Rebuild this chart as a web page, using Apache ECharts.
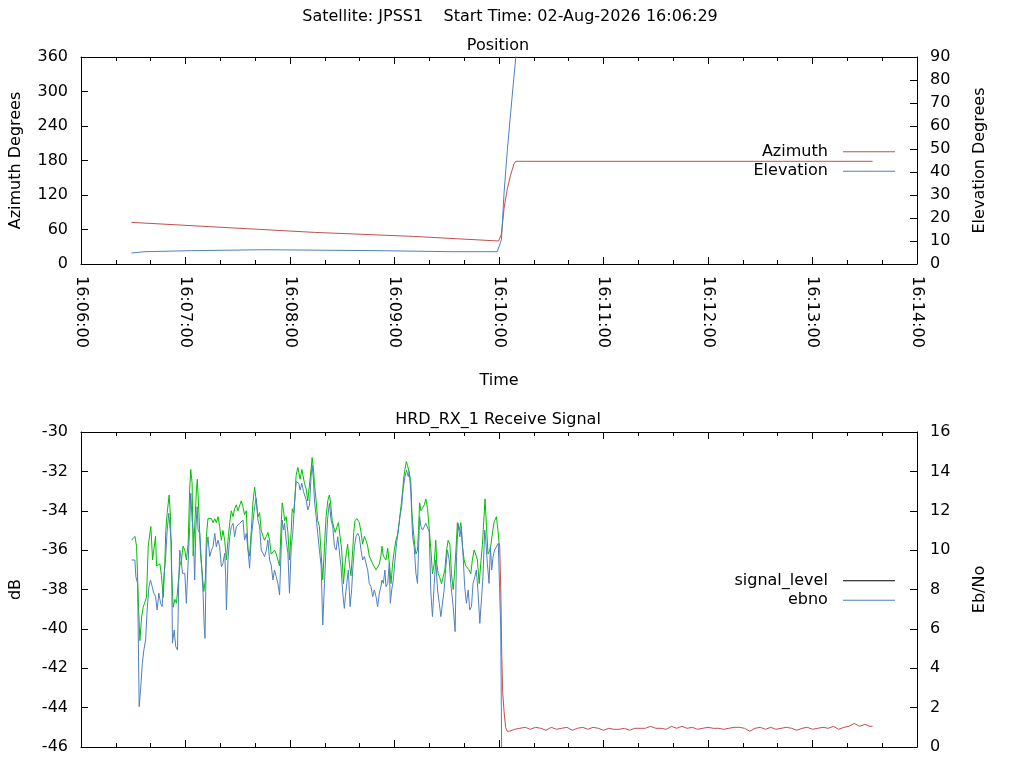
<!DOCTYPE html>
<html>
<head>
<meta charset="utf-8">
<script src="https://cdn.jsdelivr.net/npm/echarts@6/dist/echarts.min.js"></script>
<style>
  html, body { margin: 0; padding: 0; background: #fff; }
  #chart { width: 1024px; height: 768px; }
</style>
</head>
<body>
<div id="chart"></div>
<script>
// seconds after 16:06:00
var posTime = [29, 77, 134, 191, 239.8, 241.4, 242.9, 244.8, 246.7, 248.6, 249.6, 454.5];
var azimuth = [72.4, 64.4, 55.0, 48.0, 40.0, 52, 97, 131, 155, 174, 178.6, 178.6];

var elTime = [29, 36.7, 63.4, 105, 171, 213, 239, 240, 241.4, 242.9, 244.8, 246.7, 248.6, 249.6, 251];
var elevation = [4.8, 5.35, 5.8, 6.2, 5.8, 5.35, 5.35, 4.8, 10.6, 30.9, 49.7, 65.7, 81.6, 89.6, 100];

// signal level while locked (green)
var sigTime = [29.0, 30.95, 31.9, 32.9, 33.8, 34.8, 35.7, 37.6, 38.6, 40.1, 41.1, 41.8, 42.8, 43.4, 45.3, 46.2, 47.2, 48.1, 48.7, 49.5,
  50.6, 51.4, 51.9, 52.9, 53.9, 54.8, 55.8, 56.7, 57.7, 58.6, 59.6, 60.5, 61.5, 62.4, 63.0, 63.8, 64.4, 65.3, 66.3, 66.8,
  67.8, 68.6, 69.7, 70.5, 71.4, 72.0, 72.9, 74.9, 75.8, 76.8, 77.7, 78.7, 79.6, 80.6, 81.5, 82.5, 83.5, 84.4, 85.4, 86.3,
  87.3, 88.2, 89.2, 90.1, 91.1, 92.0, 93.0, 93.9, 94.9, 95.9, 96.8, 97.8, 98.7, 99.7, 100.6,
  101.6, 102.55, 103.5, 104.5, 105.4, 106.4, 107.3, 108.3, 109.2, 110.2, 111.1, 112.1, 113.05, 114.0, 115.0, 115.5, 116.3, 116.9, 117.8, 118.8,
  119.7, 120.7, 121.3, 122.2, 123.0, 123.5, 124.5, 125.1, 125.8, 126.8, 127.75, 128.3, 129.3, 130.2, 131.2, 132.1, 132.7, 133.5, 134.0, 135.0,
  135.9, 136.9, 137.9, 138.8, 139.8, 140.7, 141.7, 142.6, 143.2, 144.2, 145.1, 145.9, 146.8, 147.8, 148.9, 149.7, 150.7, 151.8, 152.6, 153.1,
  154.1, 155.0, 156.0, 156.6, 157.3, 158.5, 159.8, 160.8, 161.7, 162.7, 163.6, 164.6, 165.5, 166.5, 167.5, 168.4, 169.4, 170.3, 171.3, 172.2,
  172.8, 173.6, 174.5, 175.1, 176.1, 176.6, 177.4, 178.0, 178.9, 179.9, 180.8, 181.8, 182.7, 183.7, 184.7, 185.2, 186.0, 186.8, 187.5, 188.5,
  189.4, 190.0, 190.8, 191.7, 192.3, 193.2, 193.8, 194.4, 195.2, 196.1, 197.1, 198.0, 199.0, 199.9, 200.9, 201.8, 202.8, 203.7, 204.3, 205.1,
  206.0, 207.0, 207.9, 208.9, 209.9, 210.8, 211.8, 212.7, 213.7, 214.6, 215.6, 216.1, 217.1, 218.1, 219.0, 220.0, 220.9, 221.9, 222.8, 223.8,
  224.7, 225.7, 226.6, 227.6, 228.6, 229.5, 230.5, 231.4, 232.0, 232.8, 233.7, 234.7, 235.2, 236.2, 237.1, 238.5, 239.4, 240.0];
var sigLevel = [-35.5, -35.3, -35.8, -38.5, -40.6, -39.4, -38.9, -38.4, -35.8, -34.8, -36.5, -36.0, -35.3, -36.8, -36.7, -37.3, -38.4, -36.7, -35.0, -34.1,
  -33.2, -34.3, -36.8, -38.9, -38.5, -38.7, -37.7, -36.8, -36.5, -35.8, -36.0, -36.5, -35.7, -32.9, -31.9, -32.6, -36.3, -34.8, -32.9, -32.4,
  -34.3, -36.2, -37.3, -38.1, -37.5, -35.3, -34.4, -34.4, -34.6, -34.4, -34.6, -34.3, -34.8, -35.5, -35.0, -35.5, -36.5, -35.5, -34.6, -34.0,
  -34.3, -33.9, -33.7, -34.0, -33.9, -33.5, -33.8, -34.2, -34.0, -36.0, -36.3, -35.0, -33.6, -32.8, -32.9,
  -34.3, -34.1, -35.0, -35.3, -35.5, -35.3, -35.1, -35.5, -36.2, -36.2, -36.0, -36.2, -36.5, -36.8, -34.6, -33.6, -34.0, -34.5, -34.3, -35.1,
  -36.5, -35.0, -33.9, -34.1, -33.1, -32.2, -31.8, -31.8, -32.4, -31.9, -32.0, -32.6, -32.9, -33.5, -33.4, -31.9, -31.3, -31.9, -32.6, -33.5,
  -34.5, -34.8, -36.2, -37.5, -35.8, -34.3, -33.5, -33.2, -33.5, -34.5, -34.5, -35.1, -35.0, -34.6, -34.6, -36.0, -37.7, -36.5, -36.0, -35.7,
  -36.7, -37.3, -36.0, -35.1, -34.5, -34.4, -34.6, -35.1, -35.7, -35.3, -35.5, -35.8, -36.3, -36.5, -36.7, -36.8, -37.0, -37.0, -36.7, -36.3,
  -35.8, -36.3, -36.2, -36.5, -35.9, -35.9, -37.0, -37.7, -36.7, -36.0, -35.5, -35.2, -34.6, -33.8, -33.0, -32.4, -31.9, -31.5, -31.7, -32.1,
  -32.6, -34.1, -35.0, -35.8, -36.2, -36.0, -35.0, -33.6, -34.0, -34.1, -33.7, -33.4, -33.9, -34.0, -36.0, -37.2, -36.7, -35.5, -36.7, -37.2,
  -37.4, -37.7, -37.7, -37.0, -36.0, -35.5, -35.7, -37.2, -38.0, -37.0, -35.5, -34.6, -35.0, -34.6, -35.8, -36.5, -36.8, -36.8, -37.0, -37.2,
  -36.5, -36.0, -36.2, -36.5, -37.7, -36.7, -35.7, -34.3, -33.4, -34.8, -36.2, -36.0, -35.8, -35.7, -34.6, -34.3, -35.0, -35.6];

// signal level after loss of lock (red)
var lostTime = [240.0, 240.4, 241.0, 241.6, 242.1, 242.9, 243.8, 244.8,
  246, 249, 252, 255, 258, 261, 264, 267, 270, 273, 276, 279, 282, 285, 288, 291, 294, 297, 300, 303, 306, 309,
  312, 315, 318, 321, 324, 327, 330, 333, 336, 339, 342, 345, 348, 351, 354, 357, 360, 363, 366, 369, 372, 375,
  378, 381, 384, 387, 390, 393, 396, 399, 402, 405, 408, 411, 414, 417, 420, 423, 426, 429, 432, 435, 438, 441,
  444, 447, 450, 453, 454.5];
var lostLevel = [-35.6, -35.8, -37.9, -41.4, -43.2, -44.2, -45.0, -45.2,
  -45.2, -45.1, -45.05, -45.0, -45.1, -45.0, -45.05, -45.15, -45.0, -45.1, -45.05, -45.0, -45.15, -45.05, -45.0, -45.1, -45.0, -45.05, -45.15, -45.05, -45.1, -45.1,
  -45.05, -45.15, -45.05, -45.05, -45.05, -44.95, -45.05, -45.05, -45.1, -44.95, -45.05, -44.95, -45.05, -45.0, -45.1, -45.05, -45.0, -45.05, -45.05, -45.1, -45.05, -45.0,
  -45.0, -45.05, -45.2, -45.05, -45.0, -45.1, -45.0, -45.1, -45.05, -45.0, -45.05, -45.15, -45.05, -45.0, -45.1, -45.05, -45.0, -45.05, -44.95, -45.1, -45.0, -44.95,
  -44.8, -44.95, -44.85, -44.95, -44.95];

var ebnoTime = [29.0, 30.95, 31.5, 32.5, 33.4, 34.2, 35.2, 36.1, 37.1, 38.0, 39.0, 39.9, 40.9, 41.8, 42.8, 43.7, 44.7, 45.7, 46.6, 47.6,
  48.5, 49.5, 50.4, 51.4, 51.9, 52.5, 53.5, 54.4, 55.4, 56.1, 56.7, 57.3, 58.3, 59.6, 60.5, 61.5, 62.4, 63.0, 63.8, 64.4,
  65.3, 65.9, 66.7, 67.2, 68.2, 69.1, 70.1, 70.7, 71.2, 72.0, 72.9, 73.9, 74.9, 75.8, 76.8, 77.7, 78.7, 79.6, 80.6, 81.5,
  82.5, 83.1, 83.5, 84.4, 85.4, 86.3, 87.3, 88.2, 89.2, 90.1, 91.1, 92.0, 93.0, 93.9, 94.9, 95.9, 96.8, 97.8, 98.7, 99.7, 100.6,
  101.6, 102.55, 103.5, 104.5, 105.4, 106.4, 107.3, 108.3, 109.2, 110.2, 111.1, 112.1, 113.05, 114.0, 115.0, 115.5, 116.3, 116.9, 117.8, 118.8,
  119.7, 120.7, 121.6, 122.6, 123.5, 124.5, 125.1, 125.8, 126.8, 127.75, 128.3, 129.3, 130.2, 131.2, 132.1, 132.7, 133.5, 134.0, 135.0, 135.9,
  136.9, 137.9, 138.8, 139.8, 140.7, 141.7, 142.6, 143.6, 144.55, 145.5, 146.5, 147.4, 148.4, 149.3, 150.3, 151.2, 151.8, 152.6, 153.5, 154.5,
  155.4, 156.0, 157.0, 157.9, 158.9, 159.8, 160.8, 161.7, 162.7, 163.6, 164.6, 165.5, 166.5, 167.5, 168.4, 169.4, 170.3, 171.3, 172.2,
  172.8, 173.6, 174.5, 175.1, 176.1, 177.0, 177.6, 178.4, 179.3, 180.3, 181.2, 182.2, 183.1, 184.1, 185.0, 186.0, 186.9, 187.9, 188.5, 189.4,
  190.4, 191.3, 192.3, 193.2, 193.8, 194.4, 195.2, 196.1, 197.1, 198.0, 199.0, 199.9, 200.9, 201.8, 202.8, 203.7, 204.7, 205.7, 206.6, 207.6,
  208.5, 209.5, 210.4, 211.4, 212.3, 213.7, 214.8, 215.6, 216.5, 217.5, 218.4, 219.4, 220.3, 221.3, 222.3, 223.2, 224.2, 225.1, 226.1, 227.0,
  228.0, 229.0, 229.9, 230.8, 231.8, 232.4, 233.3, 234.3, 235.1, 235.8, 236.6, 237.5, 238.5, 239.6, 240.4, 241.0, 241.5];
var ebno = [9.5, 9.5, 8.65, 8.3, 2.05, 2.9, 4.25, 4.93, 5.44, 6.96, 8.14, 8.48, 8.14, 7.81, 7.64, 6.96, 7.81, 7.3, 7.13, 8.65,
  9.5, 11.02, 11.87, 11.87, 10.35, 5.27, 5.94, 5.1, 4.93, 8.3, 10.0, 9.67, 8.82, 8.82, 7.3, 7.3, 11.19, 12.89, 11.53, 11.02,
  8.48, 11.02, 12.21, 11.02, 10.85, 9.5, 7.81, 6.2, 5.52, 10.0, 10.68, 9.67, 10.0, 10.17, 10.85, 10.17, 10.51, 10.17, 9.16, 9.33,
  9.84, 8.65, 6.96, 9.5, 10.68, 11.19, 11.36, 10.68, 11.19, 11.19, 11.36, 11.45, 11.53, 10.51, 10.85, 10.0, 9.08, 10.68, 10.68, 12.21, 12.63,
  11.53, 11.19, 10.0, 9.84, 9.67, 10.0, 10.51, 9.5, 9.25, 8.48, 8.99, 8.65, 8.31, 7.72, 10.18, 11.53, 11.02, 11.36, 10.51, 9.84,
  7.81, 10.18, 10.85, 12.38, 13.48, 13.56, 13.39, 13.05, 13.39, 12.97, 12.89, 12.55, 12.04, 12.29, 13.73, 14.32, 13.56, 12.55, 11.7, 10.85,
  10.0, 9.16, 6.2, 8.31, 10.18, 11.7, 12.38, 11.53, 11.19, 10.18, 10.0, 10.68, 10.68, 9.16, 7.81, 7.04, 7.64, 8.31, 8.99, 7.13,
  7.98, 8.99, 10.18, 10.68, 10.85, 10.68, 10.0, 9.5, 9.67, 9.67, 8.99, 8.31, 8.14, 7.64, 7.98, 7.64, 7.13, 7.81, 8.14,
  8.48, 8.31, 8.99, 8.14, 8.31, 9.33, 7.3, 7.98, 8.48, 9.5, 10.35, 11.02, 11.7, 12.21, 13.14, 13.73, 14.07, 13.73, 13.99, 12.89,
  10.68, 10.18, 8.82, 8.31, 10.01, 11.7, 11.19, 11.02, 11.19, 11.36, 11.45, 10.94, 7.81, 6.62, 8.31, 9.5, 7.98, 7.3, 6.62, 6.54,
  7.98, 9.16, 10.01, 9.5, 8.31, 7.13, 5.86, 9.67, 11.36, 10.68, 11.19, 9.67, 8.14, 7.3, 7.98, 6.96, 7.13, 8.31, 8.65, 8.99,
  7.81, 6.28, 7.47, 8.65, 11.02, 10.51, 9.33, 8.31, 10.18, 8.99, 9.67, 10.01, 10.01, 10.35, 10.26, 6.0, 0];

function pairs(xs, ys) {
  return xs.map(function (x, i) { return [x, ys[i]]; });
}
function pad(n) { return n < 10 ? '0' + n : '' + n; }
function timeLabel(s) {
  var tot = 360 + s;
  return '16:' + pad(Math.floor(tot / 60)) + ':' + pad(Math.round(tot % 60));
}

var FONT = 'DejaVu Sans';
var txt = { fontFamily: FONT, fontSize: 16, color: '#000' };

function xAx(grid, pos, labels) {
  var a = {
    type: 'value', gridIndex: grid, position: pos, min: 0, max: 480, interval: 60,
    axisLine: { onZero: false, lineStyle: { color: '#000', width: 1 } },
    axisTick: { inside: true, length: 7, lineStyle: { color: '#000' } },
    minorTick: { show: true, splitNumber: 3, length: 4, lineStyle: { color: '#000' } },
    splitLine: { show: false },
    axisLabel: { show: false }
  };
  if (labels) {
    a.axisLabel = { show: true, rotate: -90, margin: 12, formatter: timeLabel, fontFamily: FONT, fontSize: 16, color: '#000' };
    a.name = 'Time';
    a.nameLocation = 'middle';
    a.nameGap = 109;
    a.nameTextStyle = txt;
  }
  return a;
}
function yAx(grid, pos, min, max, step, name, gap) {
  return {
    type: 'value', gridIndex: grid, position: pos, min: min, max: max, interval: step,
    name: name, nameLocation: 'middle', nameGap: gap, nameRotate: 90, nameTextStyle: txt,
    axisLine: { show: true, onZero: false, lineStyle: { color: '#000', width: 1 } },
    axisTick: { show: true, inside: true, length: 7, lineStyle: { color: '#000' } },
    splitLine: { show: false },
    axisLabel: { margin: 13, fontFamily: FONT, fontSize: 16, color: '#000' }
  };
}
function line(name, data, color, xi, yi) {
  return {
    name: name, type: 'line', data: data, xAxisIndex: xi, yAxisIndex: yi,
    showSymbol: false, symbol: 'none', color: color,
    lineStyle: { width: 1, color: color }, emphasis: { disabled: true }
  };
}
function legendBox(top, data) {
  return {
    data: data, orient: 'vertical', align: 'right', right: 124, top: top,
    icon: 'rect', itemWidth: 52, itemHeight: 1, itemGap: 0, selectedMode: false,
    formatter: function (n) { return n + '  '; },
    textStyle: { fontFamily: FONT, fontSize: 16, color: '#000', lineHeight: 19.5 }
  };
}

var chart = echarts.init(document.getElementById('chart'));
chart.setOption({
  animation: false,
  backgroundColor: '#fff',
  grid: [
    { left: 79, top: 57, width: 838, height: 207 },
    { left: 79, top: 432, width: 838, height: 315 }
  ],
  xAxis: [xAx(0, 'bottom', true), xAx(0, 'top', false), xAx(1, 'bottom', false), xAx(1, 'top', false)],
  yAxis: [
    yAx(0, 'left', 0, 360, 60, 'Azimuth Degrees', 57),
    yAx(0, 'right', 0, 90, 10, 'Elevation Degrees', 55),
    yAx(1, 'left', -46, -30, 2, 'dB', 57),
    yAx(1, 'right', 0, 16, 2, 'Eb/No', 55)
  ],
  legend: [
    legendBox(137, ['Azimuth', 'Elevation']),
    legendBox(566, [{ name: 'signal_level', itemStyle: { color: '#000' } }, 'ebno'])
  ],
  graphic: [
    { type: 'text', x: 510, y: 17, style: { text: 'Satellite: JPSS1    Start Time: 02-Aug-2026 16:06:29', font: '16px "DejaVu Sans"', fill: '#000', align: 'center', verticalAlign: 'middle' } },
    { type: 'text', x: 498, y: 46, style: { text: 'Position', font: '16px "DejaVu Sans"', fill: '#000', align: 'center', verticalAlign: 'middle' } },
    { type: 'text', x: 498, y: 420, style: { text: 'HRD_RX_1 Receive Signal', font: '16px "DejaVu Sans"', fill: '#000', align: 'center', verticalAlign: 'middle' } }
  ],
  series: [
    line('Azimuth', pairs(posTime, azimuth), '#c0504d', 0, 0),
    line('Elevation', pairs(elTime, elevation), '#4f81bd', 0, 1),
    line('signal_level', pairs(sigTime, sigLevel), '#00c000', 2, 2),
    line('signal_level', pairs(lostTime, lostLevel), '#c0504d', 2, 2),
    line('ebno', pairs(ebnoTime, ebno), '#4f81bd', 2, 3)
  ]
});
</script>
</body>
</html>
